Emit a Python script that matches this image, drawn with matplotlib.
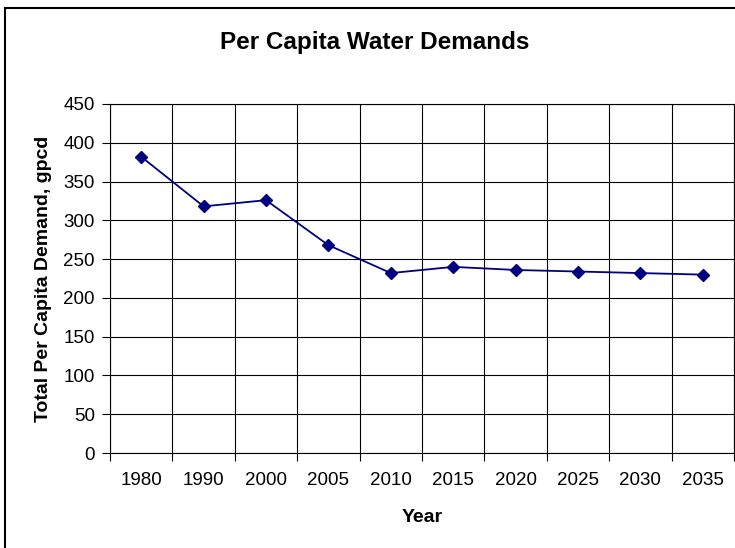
import matplotlib.pyplot as plt
from matplotlib.patches import Rectangle
import numpy as np

plt.rcParams['font.family'] = ['Liberation Sans', 'DejaVu Sans']

years = ['1980', '1990', '2000', '2005', '2010', '2015', '2020', '2025', '2030', '2035']
demand = [382, 318, 326, 268, 232, 240, 236, 234, 232, 230]
yticks = [0, 50, 100, 150, 200, 250, 300, 350, 400, 450]

fig = plt.figure(figsize=(7.35, 5.48), dpi=100)
ax = fig.add_axes([110 / 735, 1 - 453 / 548, 624 / 735, 349 / 548])

x = np.arange(len(years))
ax.plot(x, demand, color='#000080', lw=1.3, marker='D', markersize=6.5,
        markerfacecolor='#000080', markeredgecolor='#000080')

ax.set_xlim(-0.5, len(years) - 0.5)
ax.set_ylim(0, 450)

# category boundaries carry the ticks and grid, labels sit in the middle
ax.set_xticks(np.arange(len(years) + 1) - 0.5)
ax.set_xticklabels([])
ax.set_xticks(x, minor=True)
ax.set_xticklabels(years, minor=True, fontsize=13.5)
ax.tick_params(axis='x', which='major', direction='out', length=6, width=0.8)
ax.tick_params(axis='x', which='minor', length=0, pad=14)
ax.set_yticks(yticks)
ax.set_yticklabels([str(v) for v in yticks], fontsize=13.5)
ax.tick_params(axis='y', direction='out', length=6, width=0.8, pad=5)

ax.grid(True, which='major', color='black', lw=0.8)
for s in ax.spines.values():
    s.set_color('black')
    s.set_linewidth(0.8)

ax.set_xlabel('Year', fontsize=14, fontweight='bold', labelpad=14)
ax.set_ylabel('Total Per Capita Demand, gpcd', fontsize=14, fontweight='bold', labelpad=8)
fig.text(375 / 735, 1 - 42 / 548, 'Per Capita Water Demands', fontsize=17.5,
         fontweight='bold', ha='center', va='center')

fig.patches.append(Rectangle((5 / 735, -0.1), 2, 1.1 - 8 / 548, transform=fig.transFigure,
                             fill=False, edgecolor='black', lw=1.5))

fig.savefig('out.png', dpi=100)
